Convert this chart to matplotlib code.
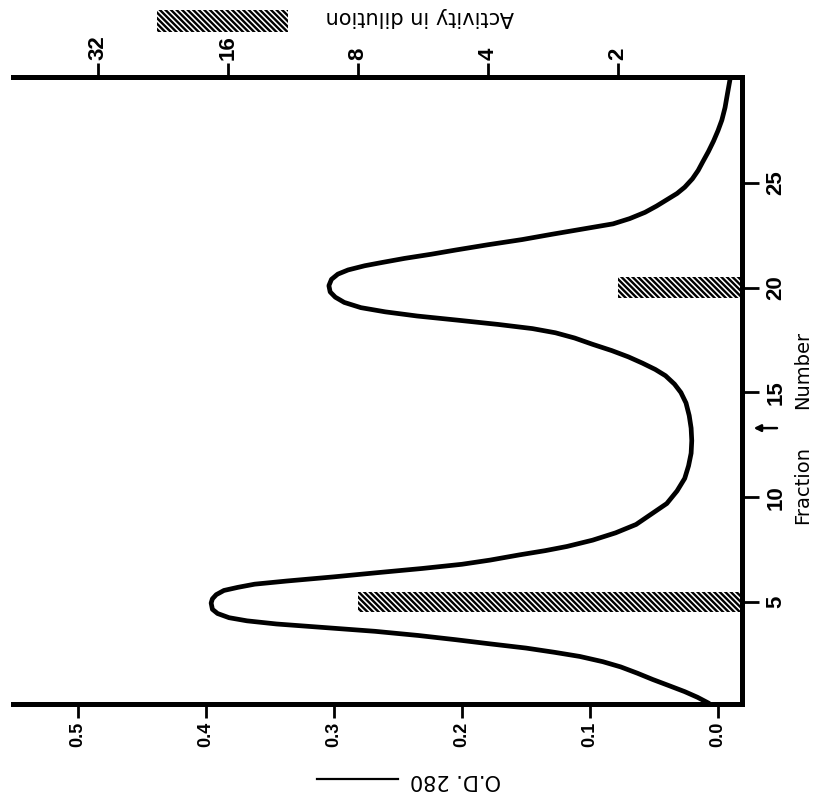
import numpy as np
import matplotlib
matplotlib.use("Agg")
import matplotlib.pyplot as plt
from matplotlib.patches import Rectangle
from matplotlib.lines import Line2D
from matplotlib.transforms import blended_transform_factory

# ---------------- data ----------------
# O.D. 280 elution profile (fraction number, optical density)
curve_fraction = [0.16, 0.45, 0.72, 1.0, 1.3, 1.6, 1.9, 2.15, 2.4, 2.6, 2.8, 3.0,
                  3.2, 3.4, 3.6, 3.8, 3.95, 4.1, 4.25, 4.45, 4.65, 4.95, 5.15, 5.35,
                  5.55, 5.7, 5.85, 6.0, 6.2, 6.4, 6.6, 6.8, 7.0, 7.25, 7.45, 7.65,
                  7.95, 8.3, 8.7, 9.2, 9.7, 10.3, 10.9, 11.5, 12.1, 12.7, 13.3, 13.9,
                  14.5, 15.0, 15.4, 15.8, 16.1, 16.4, 16.7, 17.0, 17.3, 17.6, 17.85,
                  18.05, 18.25, 18.45, 18.65, 18.85, 19.05, 19.3, 19.55, 19.8, 20.1,
                  20.4, 20.65, 20.85, 21.05, 21.2, 21.4, 21.6, 21.8, 22.05, 22.3,
                  22.55, 22.8, 23.05, 23.3, 23.6, 23.9, 24.2, 24.5, 24.8, 25.2, 25.6,
                  26.0, 26.5, 27.0, 27.5, 28.0, 28.6, 29.3, 29.95]
curve_od = [0.007, 0.016, 0.026, 0.038, 0.051, 0.063, 0.076, 0.090, 0.108, 0.128, 0.150, 0.178,
            0.205, 0.234, 0.268, 0.312, 0.345, 0.368, 0.382, 0.391, 0.395, 0.396, 0.395, 0.392,
            0.386, 0.375, 0.362, 0.337, 0.300, 0.266, 0.231, 0.200, 0.178, 0.155, 0.135, 0.118,
            0.098, 0.080, 0.064, 0.052, 0.040, 0.032, 0.026, 0.023, 0.021, 0.0205, 0.021, 0.0225,
            0.025, 0.029, 0.034, 0.041, 0.049, 0.059, 0.070, 0.083, 0.098, 0.112, 0.127,
            0.145, 0.172, 0.203, 0.235, 0.260, 0.279, 0.292, 0.299, 0.303, 0.304,
            0.302, 0.297, 0.289, 0.276, 0.263, 0.245, 0.224, 0.205, 0.180, 0.153,
            0.130, 0.106, 0.082, 0.069, 0.057, 0.048, 0.040, 0.032, 0.026, 0.020, 0.0155,
            0.012, 0.0075, 0.0035, 0.000, -0.003, -0.0055, -0.0075, -0.0094]

# Activity in dilution (hatched bars)
activity_fraction = [4.98, 20.0]
activity_value = [8, 2]
activity_width = [0.95, 1.0]

# axis ticks
od_ticks = [0.0, 0.1, 0.2, 0.3, 0.4, 0.5]
od_labels = ["0.0", "0.1", "0.2", "0.3", "0.4", "0.5"]
fraction_ticks = [5, 10, 15, 20, 25]
fraction_labels = ["5", "10", "15", "20", "25"]
activity_ticks = [2, 4, 8, 16, 32]
activity_labels = ["2", "4", "8", "16", "32"]

arrow_fraction = 13.3

# ---------------- figure ----------------
W, H = 817, 802
plt.rcParams['font.family'] = ['DejaVu Sans']
plt.rcParams['hatch.linewidth'] = 1.7
HATCH = '\\' * 6
fig = plt.figure(figsize=(W / 100, H / 100), dpi=100)
fig.patch.set_facecolor('white')

ax = fig.add_axes([13 / W, 98 / H, 729 / W, 627 / H])
ax.set_xlim(0.5508, -0.01875)
ax.set_ylim(0.13, 30.06)

ax.plot(curve_od, curve_fraction, color='black', lw=3.4,
        solid_capstyle='round', solid_joinstyle='round', zorder=3)

for s in ['left', 'top']:
    ax.spines[s].set_visible(False)
for s in ['bottom', 'right']:
    ax.spines[s].set_linewidth(3.6)
    ax.spines[s].set_capstyle('projecting')

tick_font = ['Liberation Sans', 'DejaVu Sans']
ax.yaxis.tick_right()
ax.set_xticks(od_ticks)
ax.set_xticklabels(od_labels, rotation=90, fontsize=13, fontweight='bold',
                   family=tick_font)
ax.set_yticks(fraction_ticks)
ax.set_yticklabels(fraction_labels, rotation=90, fontsize=16, fontweight='bold',
                   va='center', family=tick_font)
ax.tick_params(axis='x', direction='out', length=10, width=2, pad=3)
ax.tick_params(axis='y', direction='out', length=12, width=2, pad=5)

# activity axis (top)
ax2 = ax.twiny()
ax2.set_xscale('log', base=2)
ax2.set_xlim(50.3, 1.03)
ax2.set_ylim(ax.get_ylim())
ax2.barh(activity_fraction, np.array(activity_value) - 1.0, left=1.0,
         height=activity_width, facecolor='none', edgecolor='black',
         linewidth=0, hatch=HATCH, zorder=2)
for s in ['left', 'bottom', 'right']:
    ax2.spines[s].set_visible(False)
ax2.spines['top'].set_linewidth(3.6)
ax2.spines['top'].set_capstyle('projecting')
ax2.set_xticks(activity_ticks)
ax2.set_xticklabels(activity_labels, rotation=90, fontsize=16, fontweight='bold',
                    family=tick_font)
ax2.xaxis.set_minor_locator(matplotlib.ticker.NullLocator())
ax2.tick_params(axis='x', which='both', direction='out', length=10, width=2, pad=2)
ax2.tick_params(axis='y', left=False, labelleft=False)

# axis labels
tr = blended_transform_factory(ax.transAxes, ax.transData)
ax.text(1.0837, 10.58, "Fraction", rotation=90, fontsize=14, ha='center',
        va='center', transform=tr)
ax.text(1.0837, 16.07, "Number", rotation=90, fontsize=14, ha='center',
        va='center', transform=tr)

ax.annotate('', xy=(1.016, arrow_fraction), xytext=(1.048, arrow_fraction),
            xycoords=tr, textcoords=tr,
            arrowprops=dict(arrowstyle='-|>', lw=1.8, color='black',
                            mutation_scale=10, shrinkA=0, shrinkB=0),
            annotation_clip=False)

fig.text(420 / W, 1 - 17 / H, "Activity in dilution", rotation=180,
         fontsize=15, ha='center', va='center')
fig.add_artist(Rectangle((157 / W, 1 - 32 / H), 131 / W, 22 / H,
                         transform=fig.transFigure, facecolor='none',
                         edgecolor='black', linewidth=0, hatch=HATCH))

fig.text(455 / W, 1 - 780 / H, "O.D. 280", rotation=180,
         fontsize=15, ha='center', va='center')
fig.add_artist(Line2D([317 / W, 398 / W], [1 - 779 / H, 1 - 779 / H],
                      transform=fig.transFigure, color='black', lw=1.6))

fig.savefig("out.png", dpi=100, facecolor='white')
